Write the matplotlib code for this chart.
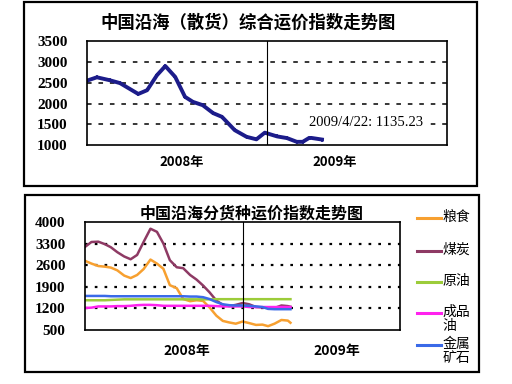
import pandas as pd
import matplotlib
matplotlib.use("Agg")
import matplotlib.pyplot as plt
from matplotlib.patches import Rectangle
from matplotlib.lines import Line2D

plt.rcParams['font.family'] = ['Noto Sans CJK SC', 'DejaVu Sans']

# top chart: composite index
top_dates = ["2008-01-01", "2008-01-21", "2008-02-16", "2008-03-08", "2008-04-14",
             "2008-05-02", "2008-05-22", "2008-06-08", "2008-06-28", "2008-07-18",
             "2008-08-03", "2008-08-23", "2008-09-13", "2008-10-01", "2008-10-27",
             "2008-11-20", "2008-12-10", "2008-12-27", "2009-01-21", "2009-02-10",
             "2009-03-02", "2009-03-14", "2009-03-28", "2009-04-22"]
top_values = [2550, 2630, 2560, 2490, 2230, 2320, 2680, 2900, 2640, 2160,
              2040, 1960, 1770, 1680, 1360, 1200, 1140, 1300, 1210, 1170,
              1080, 1080, 1180, 1135]

# bottom chart: per cargo type, semi-monthly
bot_dates = ["2008-01-01", "2008-01-16", "2008-02-01", "2008-02-16", "2008-03-01",
             "2008-03-16", "2008-04-01", "2008-04-16", "2008-05-01", "2008-05-16",
             "2008-06-01", "2008-06-16", "2008-07-01", "2008-07-16", "2008-08-01",
             "2008-08-16", "2008-09-01", "2008-09-16", "2008-10-01", "2008-10-16",
             "2008-11-01", "2008-11-16", "2008-12-01", "2008-12-16", "2009-01-01",
             "2009-01-16", "2009-02-01", "2009-02-16", "2009-03-01", "2009-03-16",
             "2009-04-01", "2009-04-16", "2009-04-22"]
grain = [2740, 2650, 2570, 2550, 2520, 2430, 2260, 2180, 2280, 2470,
         2780, 2650, 2480, 1950, 1850, 1500, 1430, 1460, 1440, 1230,
         960, 790, 740, 700, 770, 720, 660, 670, 620, 700,
         820, 800, 730]
coal = [3190, 3350, 3360, 3280, 3180, 3020, 2880, 2790, 2930, 3350,
        3780, 3680, 3300, 2760, 2530, 2500, 2280, 2130, 1940, 1720,
        1450, 1310, 1270, 1310, 1370, 1330, 1240, 1230, 1210, 1210,
        1290, 1270, 1250]
crude = [1460, 1460, 1460, 1460, 1470, 1480, 1490, 1490, 1490, 1490,
         1490, 1490, 1490, 1490, 1490, 1490, 1490, 1490, 1490, 1490,
         1495, 1495, 1495, 1495, 1495, 1495, 1495, 1495, 1495, 1495,
         1495, 1495, 1495]
product_oil = [1210, 1220, 1260, 1260, 1260, 1270, 1270, 1280, 1300, 1310,
               1310, 1300, 1280, 1280, 1280, 1280, 1280, 1280, 1280, 1280,
               1270, 1260, 1260, 1260, 1260, 1240, 1240, 1240, 1240, 1240,
               1240, 1240, 1240]
metal = [1600, 1600, 1600, 1600, 1590, 1590, 1590, 1590, 1590, 1590,
         1590, 1590, 1590, 1590, 1590, 1590, 1580, 1580, 1560, 1500,
         1400, 1330, 1300, 1290, 1290, 1280, 1260, 1240, 1180, 1170,
         1170, 1170, 1170]

labels = ["粮食", "煤炭", "原油", "成品\n油", "金属\n矿石"]
colors = ["#f7a030", "#8e3a64", "#9ccc3a", "#ff22ee", "#3a6ae8"]
series = [grain, coal, crude, product_oil, metal]

top_td = pd.to_datetime(top_dates)
bot_td = pd.to_datetime(bot_dates)
num_font = {'family': 'Liberation Serif', 'weight': 'bold', 'size': 11}

fig = plt.figure(figsize=(5.12, 3.84), dpi=100)

# outer frames
fig.add_artist(Rectangle((0.047, 0.516), 0.885, 0.479, transform=fig.transFigure,
                         fill=False, lw=1.6, ec='black'))
fig.add_artist(Rectangle((0.049, 0.031), 0.887, 0.461, transform=fig.transFigure,
                         fill=False, lw=1.6, ec='black'))

# ---- top chart
ax1 = fig.add_axes([0.170, 0.622, 0.703, 0.271])
ax1.plot(top_td, top_values, color='#1c1c8a', lw=2.8, marker='+', ms=3, mew=1.2)
ax1.set_xlim(pd.Timestamp("2008-01-01"), pd.Timestamp("2010-01-01"))
ax1.set_ylim(1000, 3500)
ax1.set_yticks([1000, 1500, 2000, 2500, 3000, 3500])
ax1.set_yticklabels(["1000", "1500", "2000", "2500", "3000", "3500"], fontdict=num_font)
ax1.set_xticks(pd.to_datetime(["2008-07-12", "2009-05-18"]))
ax1.set_xticklabels(["2008年", "2009年"], fontweight='bold', fontsize=9.5)
ax1.tick_params(axis='y', length=0, pad=14)
ax1.tick_params(axis='x', length=0, pad=7)
for y in [1500, 2000, 2500, 3000]:
    ax1.axhline(y, color='black', lw=1.1, dashes=(3, 4.5), zorder=0)
ax1.axvline(pd.Timestamp("2009-01-01"), color='black', lw=0.8)
ax1.text(pd.Timestamp("2009-07-20"), 1540, "2009/4/22: 1135.23", ha='center', va='center',
         fontfamily='Liberation Serif', fontsize=10.5,
         bbox=dict(facecolor='white', edgecolor='none', pad=5))
for s in ax1.spines.values():
    s.set_linewidth(1.2)
fig.text(0.484, 0.940, "中国沿海（散货）综合运价指数走势图", ha='center', va='center',
         fontsize=12.5, fontweight='bold')

# ---- bottom chart
ax2 = fig.add_axes([0.166, 0.141, 0.615, 0.281])
for vals, c in zip(series, colors):
    ax2.plot(bot_td, vals, color=c, lw=1.8)
ax2.set_xlim(pd.Timestamp("2008-01-01"), pd.Timestamp("2010-01-01"))
ax2.set_ylim(500, 4000)
ax2.set_yticks([500, 1200, 1900, 2600, 3300, 4000])
ax2.set_yticklabels(["500", "1200", "1900", "2600", "3300", "4000"], fontdict=num_font)
ax2.set_xticks(pd.to_datetime(["2008-08-24", "2009-08-07"]))
ax2.set_xticklabels(["2008年", "2009年"], fontweight='bold', fontsize=10)
ax2.tick_params(axis='y', length=0, pad=14)
ax2.tick_params(axis='x', length=0, pad=10)
for y in [1200, 1900, 2600, 3300]:
    ax2.axhline(y, color='black', lw=1.6, dashes=(1.2, 3.2), zorder=0)
ax2.axvline(pd.Timestamp("2009-01-01"), color='black', lw=0.8)
for s in ax2.spines.values():
    s.set_linewidth(1.2)
fig.text(0.492, 0.445, "中国沿海分货种运价指数走势图", ha='center', va='center',
         fontsize=11.5, fontweight='bold')

# legend drawn by hand
leg_y = [218, 251, 282, 313, 345]
for lab, c, yp in zip(labels, colors, leg_y):
    yf = 1 - yp / 384
    fig.add_artist(Line2D([0.815, 0.862], [yf, yf], transform=fig.transFigure,
                          color=c, lw=2.2))
    fig.text(0.864, yf + 0.021, lab, ha='left', va='top', fontsize=10,
             linespacing=1.05)

fig.savefig("out.png", dpi=100)
